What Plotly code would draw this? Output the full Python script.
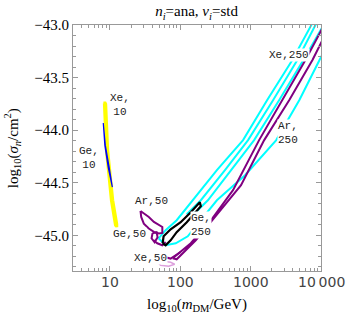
import math
import plotly.graph_objects as go

# ---- contour data: log10(m_DM/GeV), log10(sigma_n/cm^2) ----
xe10_x = [0.921, 0.950, 1.021, 1.079, 1.100, 1.100, 1.043, 0.971, 0.943, 0.929, 0.921]
xe10_y = [-43.743, -44.190, -44.667, -44.905, -44.924, -44.895, -44.667, -44.190, -43.752, -43.733, -43.743]

ge10_x = [0.907, 0.929, 0.979, 1.036, 1.029, 0.993, 0.936, 0.907]
ge10_y = [-43.933, -44.143, -44.362, -44.543, -44.514, -44.362, -44.143, -43.933]

# Xe 250 outer loop
xe250a_x = [1.693, 1.793, 1.950, 2.179, 2.521, 2.893, 3.236, 3.593, 3.864, 3.979,
            4.250, 4.164, 4.093, 3.979, 3.693, 3.364, 2.921, 2.521, 2.293, 2.107, 1.936, 1.793, 1.693]
xe250a_y = [-45.029, -44.952, -44.857, -44.667, -44.381, -44.095, -43.714, -43.333, -43.000, -42.857,
            -42.810, -43.000, -43.190, -43.333, -43.714, -44.095, -44.429, -44.667, -44.857, -45.010, -45.076, -45.095, -45.029]
# Xe 250 inner loop
xe250b_x = [2.093, 2.293, 2.636, 2.964, 3.321, 3.664, 3.921, 4.036,
            4.179, 4.036, 3.750, 3.407, 3.050, 2.721, 2.393, 2.221, 2.093]
xe250b_y = [-44.800, -44.667, -44.381, -44.095, -43.714, -43.333, -43.000, -42.857,
            -42.857, -43.000, -43.333, -43.714, -44.095, -44.381, -44.667, -44.781, -44.800]
# Ar 250
ar250_x = [1.893, 2.150, 2.436, 2.750, 3.121, 3.450, 3.779, 4.007, 4.093,
           4.179, 4.093, 3.879, 3.550, 3.193, 2.864, 2.550, 2.221, 1.950, 1.893]
ar250_y = [-45.219, -45.076, -44.857, -44.571, -44.095, -43.714, -43.333, -43.048, -42.905,
           -42.905, -43.048, -43.333, -43.714, -44.095, -44.524, -44.781, -45.048, -45.229, -45.219]
# Ge 250
ge250_x = [1.750, 1.764, 1.864, 2.007, 2.150, 2.250, 2.279, 2.293, 2.221, 2.093, 1.950, 1.864, 1.793, 1.750]
ge250_y = [-45.076, -45.010, -44.943, -44.876, -44.781, -44.705, -44.686, -44.724, -44.781, -44.876, -44.971, -45.048, -45.095, -45.076]
# Ar 50
ar50a_x = [1.436, 1.493, 1.554, 1.626, 1.697, 1.746, 1.746, 1.697, 1.626, 1.554, 1.483, 1.446, 1.436]
ar50a_y = [-44.769, -44.793, -44.826, -44.873, -44.905, -44.921, -44.978, -44.984, -44.968, -44.936, -44.889, -44.826, -44.769]
ar50b_x = [1.607, 1.664, 1.679, 1.636, 1.593, 1.607]
ar50b_y = [-44.981, -44.971, -45.019, -45.067, -45.029, -44.981]
ar50c_x = [1.621, 1.674, 1.746, 1.793]
ar50c_y = [-45.048, -45.076, -45.095, -45.064]
ar50d_x = [1.674, 1.864, 2.007]
ar50d_y = [-45.190, -45.222, -45.159]
# Xe 50 (faint)
xe50_x = [1.693, 1.764, 1.864, 1.921, 1.836, 1.721, 1.693]
xe50_y = [-45.267, -45.248, -45.257, -45.276, -45.295, -45.286, -45.267]

contours = [
    (xe250a_x, xe250a_y, "#00ffff", 2.0),
    (xe250b_x, xe250b_y, "#00ffff", 2.0),
    (ar250_x, ar250_y, "#800080", 2.0),
    (ar50a_x, ar50a_y, "#800080", 2.0),
    (ar50b_x, ar50b_y, "#800080", 2.0),
    (ar50c_x, ar50c_y, "#800080", 2.0),
    (ar50d_x, ar50d_y, "#800080", 2.0),
    (xe50_x, xe50_y, "#dda0dd", 1.5),
    (ge250_x, ge250_y, "#000000", 2.2),
    (xe10_x, xe10_y, "#ffff00", 2.8),
    (ge10_x, ge10_y, "#0000ff", 1.2),
]

# contour labels: text, log10 m, log10 sigma
label_text = ["Xe,250", "Ar,<br>250", "Xe,<br>10", "Ge,<br>10", "Ar,50", "Ge,50", "Xe,50", "Ge,<br>250"]
label_x = [3.550, 3.536, 1.150, 0.707, 1.593, 1.279, 1.579, 2.293]
label_y = [-43.286, -44.029, -43.762, -44.267, -44.676, -44.990, -45.219, -44.905]

xticks = [10, 100, 1000, 10000]
xtick_text = ["10", "100", "1000", "10\u2009000"]
yticks = [-43.0, -43.5, -44.0, -44.5, -45.0]
ytick_text = ["\u221243.0", "\u221243.5", "\u221244.0", "\u221244.5", "\u221245.0"]

fig = go.Figure()
for cx, cy, col, w in contours:
    fig.add_trace(go.Scatter(x=[10 ** v for v in cx], y=cy, mode="lines",
                             line=dict(color=col, width=w),
                             hoverinfo="skip", showlegend=False))

for t, lx, ly in zip(label_text, label_x, label_y):
    fig.add_annotation(x=lx, y=ly, xref="x", yref="y", text=t, showarrow=False,
                       font=dict(family="Liberation Mono", size=11, color="#222"),
                       bgcolor="white", borderpad=0)

# x tick labels (annotations on a log axis take log10 positions)
for tv, tt in zip(xticks, xtick_text):
    fig.add_annotation(x=math.log10(tv), y=-0.045, xref="x", yref="paper", text=tt, showarrow=False,
                       xanchor="center", yanchor="middle",
                       font=dict(family="DejaVu Sans", size=14, color="#444"))

# axis titles
fig.add_annotation(x=0.5, y=-0.138, xref="paper", yref="paper", showarrow=False,
                   text="log<sub>10</sub>(<i>m</i><sub>DM</sub>/GeV)", xanchor="center", yanchor="middle",
                   font=dict(family="Liberation Serif", size=15, color="black"))
fig.add_annotation(x=-0.245, y=0.5, xref="paper", yref="paper", showarrow=False, textangle=-90,
                   text="log<sub>10</sub>(<i>\u03c3<sub>n</sub></i>/cm<sup>2</sup>)", xanchor="center", yanchor="middle",
                   font=dict(family="Liberation Serif", size=15, color="black"))

minor_x = [k * 10 ** d for d in range(0, 4) for k in range(2, 10)]
minor_y = [-45.3 + 0.1 * i for i in range(24)]

fig.update_layout(
    width=346, height=318,
    margin=dict(l=73, r=25, t=25, b=47),
    paper_bgcolor="white", plot_bgcolor="white",
    title=dict(text="<i>n<sub>i</sub></i>=ana, <i>\u03bd<sub>i</sub></i>=std",
               x=0.568, xanchor="center", y=0.965, yanchor="middle",
               font=dict(family="Liberation Serif", size=15, color="black")),
    xaxis=dict(type="log", range=[0.477, 4.0], showgrid=False, zeroline=False, automargin=False,
               showline=True, linecolor="#999", linewidth=1, mirror="allticks",
               ticks="inside", ticklen=5, tickcolor="#999", showticklabels=False,
               tickvals=xticks,
               minor=dict(tickvals=minor_x, ticks="inside", ticklen=3, tickcolor="#999")),
    yaxis=dict(range=[-45.34, -43.0], showgrid=False, zeroline=False, automargin=False,
               showline=True, linecolor="#999", linewidth=1, mirror="allticks",
               ticks="inside", ticklen=5, tickcolor="#999",
               tickvals=yticks, ticktext=ytick_text,
               minor=dict(tickvals=minor_y, ticks="inside", ticklen=3, tickcolor="#999"),
               tickfont=dict(family="Liberation Serif", size=15, color="black")),
)

fig.write_html("out.html", config={"displayModeBar": False},
               post_script="document.body.style.margin='0';")
